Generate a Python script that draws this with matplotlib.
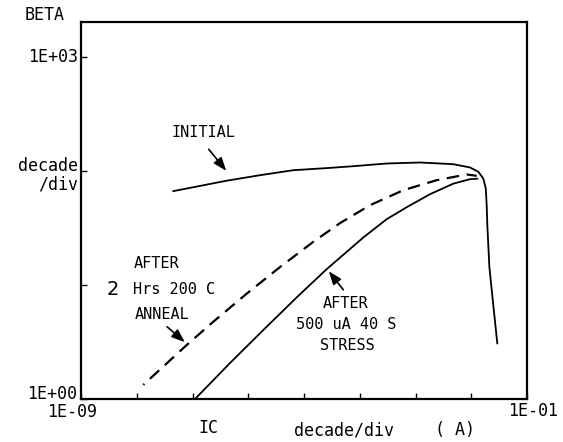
import numpy as np
import matplotlib
matplotlib.use("Agg")
import matplotlib.pyplot as plt

# values (IC in A, beta dimensionless)
ic_initial = [4.52e-8, 4.11e-7, 1.62e-6, 6.43e-6, 2.92e-5, 7.66e-5, 3.04e-4, 1.20e-3,
              4.76e-3, 9.50e-3, 1.34e-2, 1.64e-2, 1.82e-2, 1.89e-2, 1.94e-2, 2.11e-2,
              2.43e-2, 2.93e-2]
beta_initial = [66.8, 82.5, 92.2, 102.0, 106.9, 110.6, 116.8, 119.2,
                115.2, 107.8, 98.6, 86.3, 70.5, 50.3, 33.6, 14.5,
                7.39, 3.08]

ic_anneal = [1.31e-8, 7.87e-8, 2.36e-7, 9.38e-7, 3.71e-6, 1.47e-5, 4.42e-5, 1.53e-4,
             6.04e-4, 2.40e-3, 8.29e-3, 1.25e-2]
beta_anneal = [1.33, 2.98, 4.77, 8.41, 14.4, 24.0, 35.0, 50.3,
               68.1, 83.4, 93.6, 91.0]

ic_stress = [1.11e-7, 4.71e-7, 1.86e-6, 7.39e-6, 2.55e-5, 1.16e-4, 3.04e-4, 6.96e-4,
             1.82e-3, 4.76e-3, 9.50e-3, 1.28e-2]
beta_stress = [1.0, 2.07, 4.03, 7.80, 13.8, 26.2, 37.9, 48.3,
               62.8, 77.7, 85.1, 85.9]

x_decades = [1e-9, 1e-8, 1e-7, 1e-6, 1e-5, 1e-4, 1e-3, 1e-2, 1e-1]
y_decades = [1, 10, 100, 1000]

plt.rcParams['font.family'] = ['DejaVu Sans Mono']
plt.rcParams['lines.scale_dashes'] = False
FS = 11     # annotation text
FA = 12     # axis text

fig = plt.figure(figsize=(5.63, 4.42), dpi=100)
ax = fig.add_axes([0.1439, 0.0973, 0.7922, 0.853])

ax.plot(ic_initial, beta_initial, color='black', lw=1.3, solid_joinstyle='round')
ax.plot(ic_anneal, beta_anneal, color='black', lw=1.6, linestyle=(8, (9, 5.5)))
ax.plot(ic_stress, beta_stress, color='black', lw=1.3, solid_joinstyle='round')

ax.set_xscale('log')
ax.set_yscale('log')
ax.set_xlim(1e-9, 1e-1)
ax.set_ylim(1, 10 ** 3.31)
ax.set_xticks(x_decades)
ax.set_yticks(y_decades)
ax.minorticks_off()
ax.tick_params(direction='in', length=4, width=1, labelbottom=False, labelleft=False)
for s in ax.spines.values():
    s.set_linewidth(1.6)

arrow = dict(arrowstyle='-|>,head_length=0.8,head_width=0.3', color='black', lw=1.2)

# annotations inside the plot
ax.text(0.2735, 0.708, "INITIAL", transform=ax.transAxes, ha='center', va='center', fontsize=FS)
ax.annotate('', xy=(0.3296, 0.5995), xytext=(0.2825, 0.668), xycoords='axes fraction',
            arrowprops=arrow)

ax.text(0.1704, 0.3607, "AFTER", transform=ax.transAxes, ha='center', va='center', fontsize=FS)
ax.text(0.0717, 0.2891, "2", transform=ax.transAxes, ha='center', va='center', fontsize=FS + 3,
        family='DejaVu Sans')
ax.text(0.2085, 0.2891, "Hrs 200 C", transform=ax.transAxes, ha='center', va='center', fontsize=FS)
ax.text(0.1827, 0.2228, "ANNEAL", transform=ax.transAxes, ha='center', va='center', fontsize=FS)
ax.annotate('', xy=(0.2377, 0.1459), xytext=(0.1883, 0.1963), xycoords='axes fraction',
            arrowprops=arrow)

ax.text(0.594, 0.2546, "AFTER", transform=ax.transAxes, ha='center', va='center', fontsize=FS)
ax.text(0.5953, 0.1963, "500 uA 40 S", transform=ax.transAxes, ha='center', va='center', fontsize=FS)
ax.text(0.5964, 0.1406, "STRESS", transform=ax.transAxes, ha='center', va='center', fontsize=FS)
ax.annotate('', xy=(0.5516, 0.3448), xytext=(0.5919, 0.2838), xycoords='axes fraction',
            arrowprops=arrow)

# axis labels in the plotter style
fig.text(0.0799, 0.966, "BETA", ha='center', va='center', fontsize=FA)
fig.text(0.1385, 0.871, "1E+03", ha='right', va='center', fontsize=FA)
fig.text(0.1385, 0.603, "decade\n/div", ha='right', va='center', multialignment='right',
         fontsize=FA, linespacing=1.0)
fig.text(0.1368, 0.108, "1E+00", ha='right', va='center', fontsize=FA)
fig.text(0.1279, 0.068, "1E-09", ha='center', va='center', fontsize=FA)
fig.text(0.947, 0.070, "1E-01", ha='center', va='center', fontsize=FA)
fig.text(0.371, 0.0317, "IC", ha='center', va='center', fontsize=FA)
fig.text(0.611, 0.027, "decade/div", ha='center', va='center', fontsize=FA)
fig.text(0.808, 0.027, "( A)", ha='center', va='center', fontsize=FA)

fig.savefig("out.png", dpi=100)
